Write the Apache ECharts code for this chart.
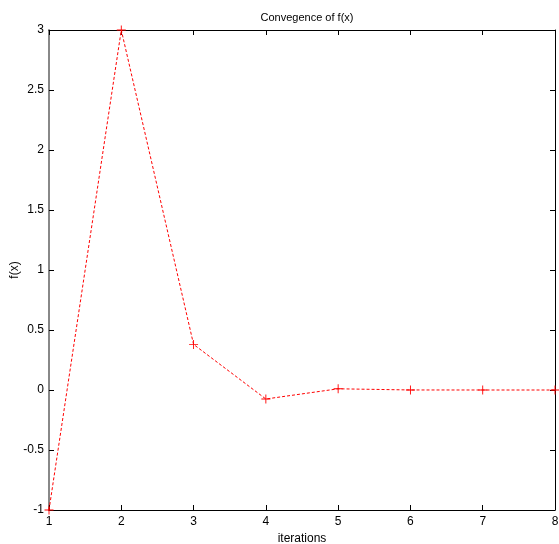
<!DOCTYPE html>
<html>
<head>
<meta charset="utf-8">
<style>
  html, body { margin: 0; padding: 0; background: #fff; }
  #chart { width: 559px; height: 544px; }
</style>
</head>
<body>
<div id="chart"></div>
<script src="https://cdn.jsdelivr.net/npm/echarts@6/dist/echarts.min.js"></script>
<script>
    var iterations = [1, 2, 3, 4, 5, 6, 7, 8];
    var fx = [-1, 3, 0.38, -0.075, 0.01, 0.0003, 0, 0];
    var yTicks = [-1, -0.5, 0, 0.5, 1, 1.5, 2, 2.5, 3];

    var font = 'Arial, "Liberation Sans", sans-serif';
    var plus = 'path://M4.5,0H5.5V10H4.5Z M0,4.5H10V5.5H0Z';

    var points = iterations.map(function (it, i) {
        return [it, fx[i]];
    });

    var myChart = echarts.init(document.getElementById('chart'));
    var option = {
        animation: false,
        backgroundColor: '#fff',
        title: {
            text: 'Convegence of f(x)',
            left: 302,
            textAlign: 'center',
            top: 7,
            textStyle: { fontFamily: font, fontSize: 11, fontWeight: 'normal', color: '#000' }
        },
        grid: { left: 49, right: 4, top: 30, bottom: 34, outerBoundsMode: 'none', containLabel: false },
        xAxis: [
            {
                type: 'value', min: 1, max: 8, interval: 1,
                name: 'iterations', nameLocation: 'middle', nameGap: 22,
                nameTextStyle: { fontFamily: font, fontSize: 12, color: '#000' },
                axisLine: { onZero: false, lineStyle: { color: '#000', width: 1 } },
                axisTick: { inside: true, length: 5, lineStyle: { color: '#000' } },
                axisLabel: { fontFamily: font, fontSize: 12, color: '#000', margin: 6 },
                splitLine: { show: false }
            },
            {
                type: 'value', min: 1, max: 8, interval: 1, position: 'top',
                axisLine: { onZero: false, lineStyle: { color: '#000', width: 1 } },
                axisTick: { inside: true, length: 5, lineStyle: { color: '#000' } },
                axisLabel: { show: false },
                splitLine: { show: false }
            }
        ],
        yAxis: [
            {
                type: 'value', min: -1, max: 3, interval: 0.5,
                name: 'f(x)', nameLocation: 'middle', nameGap: 28, nameMoveOverlap: false,
                nameTextStyle: { fontFamily: font, fontSize: 12, color: '#000' },
                axisLine: { show: true, onZero: false, lineStyle: { color: '#888', width: 2 } },
                axisTick: { show: true, inside: true, length: 5, lineStyle: { color: '#000' } },
                axisLabel: {
                    fontFamily: font, fontSize: 12, color: '#000', margin: 5,
                    formatter: function (v) { return yTicks.indexOf(v) >= 0 ? String(v) : ''; }
                },
                splitLine: { show: false }
            },
            {
                type: 'value', min: -1, max: 3, interval: 0.5, position: 'right',
                axisLine: { show: true, onZero: false, lineStyle: { color: '#000', width: 1 } },
                axisTick: { show: true, inside: true, length: 5, lineStyle: { color: '#000' } },
                axisLabel: { show: false },
                splitLine: { show: false }
            }
        ],
        series: [
            {
                type: 'line',
                data: points,
                symbol: plus,
                symbolSize: 9,
                showAllSymbol: true,
                itemStyle: { color: '#ff0000' },
                lineStyle: { color: '#ff0000', width: 1, type: [3, 2] }
            }
        ]
    };
    myChart.setOption(option);
</script>
</body>
</html>
